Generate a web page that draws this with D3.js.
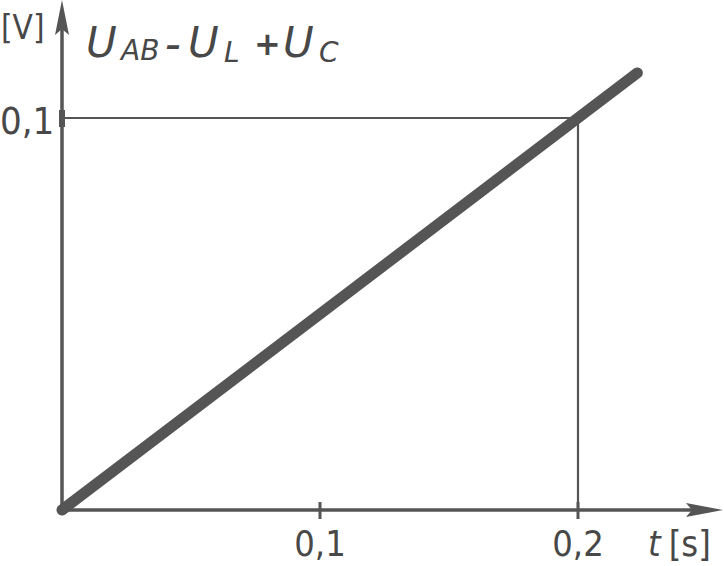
<!DOCTYPE html>
<html><head><meta charset="utf-8">
<script src="https://cdn.jsdelivr.net/npm/d3@7"></script>
<style>body{margin:0;background:#fff}svg text{font-family:"Liberation Sans Narrow","DejaVu Sans Condensed","Liberation Sans",sans-serif;fill:#484848}svg text.ttl{font-family:"DejaVu Sans",sans-serif}</style>
</head><body><svg id="c" width="724" height="566"></svg>
<script>
const xTicks=[0.1,0.2];
const xTickLabels=["0,1","0,2"];
const yTicks=[0.1];
const yTickLabels=["0,1"];
const lineT=[0,0.223];
const lineU=[0,0.1115];
const markT=0.2, markU=0.1;

const svg=d3.select("#c");
const x=d3.scaleLinear().domain([0,0.1]).range([62,320]);
const y=d3.scaleLinear().domain([0,0.1]).range([510,118]);
const col="#555";
const g=svg.append("g");
// axes
g.append("line").attr("x1",x(0)).attr("y1",y(0)).attr("x2",700).attr("y2",y(0)).attr("stroke",col).attr("stroke-width",3.5);
g.append("line").attr("x1",x(0)).attr("y1",y(0)).attr("x2",x(0)).attr("y2",20).attr("stroke",col).attr("stroke-width",3.5);
// arrowheads
g.append("path").attr("d",`M723,${y(0)} L686,${y(0)-7} L692,${y(0)} L686,${y(0)+7} Z`).attr("fill",col);
g.append("path").attr("d",`M${x(0)},0 L${x(0)-7},35 L${x(0)},29 L${x(0)+7},35 Z`).attr("fill",col);
// ticks
xTicks.forEach((t,i)=>{
  g.append("line").attr("x1",x(t)).attr("x2",x(t)).attr("y1",y(0)-8).attr("y2",y(0)+9).attr("stroke",col).attr("stroke-width",3);
  g.append("text").attr("x",x(t)).attr("y",556).attr("text-anchor","middle").attr("font-size",36).text(xTickLabels[i]);
});
yTicks.forEach((u,i)=>{
  g.append("line").attr("x1",x(0)).attr("x2",x(0)).attr("y1",y(u)-8).attr("y2",y(u)+9).attr("stroke",col).attr("stroke-width",6);
  g.append("text").attr("x",0).attr("y",y(u)+16).attr("font-size",38).text(yTickLabels[i]);
});
// guide lines
g.append("line").attr("x1",x(0)).attr("x2",x(markT)).attr("y1",y(markU)).attr("y2",y(markU)).attr("stroke",col).attr("stroke-width",2.2);
g.append("line").attr("x1",x(markT)).attr("x2",x(markT)).attr("y1",y(markU)).attr("y2",y(0)).attr("stroke",col).attr("stroke-width",2.2);
// data line
const pts=lineT.map((t,i)=>[t,lineU[i]]);
g.append("path").attr("d",d3.line().x(d=>x(d[0])).y(d=>y(d[1]))(pts)).attr("stroke",col).attr("stroke-width",11).attr("stroke-linecap","round").attr("fill","none");
// labels
g.append("text").attr("x",1).attr("y",39).attr("font-size",33).text("[V]");
const parts=[
  {t:"U",x:86,y:57,s:42},
  {t:"AB",x:121,y:60,s:28},
  {t:"–",x:166,y:55,s:30,w:"bold"},
  {t:"U",x:188,y:57,s:42},
  {t:"L",x:224,y:62,s:28},
  {t:"+",x:254,y:55,s:32,w:"bold"},
  {t:"U",x:283,y:57,s:42},
  {t:"C",x:319,y:62,s:28}
];
parts.forEach(p=>g.append("text").attr("class","ttl").attr("x",p.x).attr("y",p.y).attr("font-size",p.s).attr("font-style","italic").attr("font-weight",p.w||"normal").text(p.t));
const lt=g.append("text").attr("x",648).attr("y",556).attr("font-size",36);
lt.append("tspan").attr("font-style","italic").text("t");
lt.append("tspan").attr("dx",8).text("[s]");
</script></body></html>
